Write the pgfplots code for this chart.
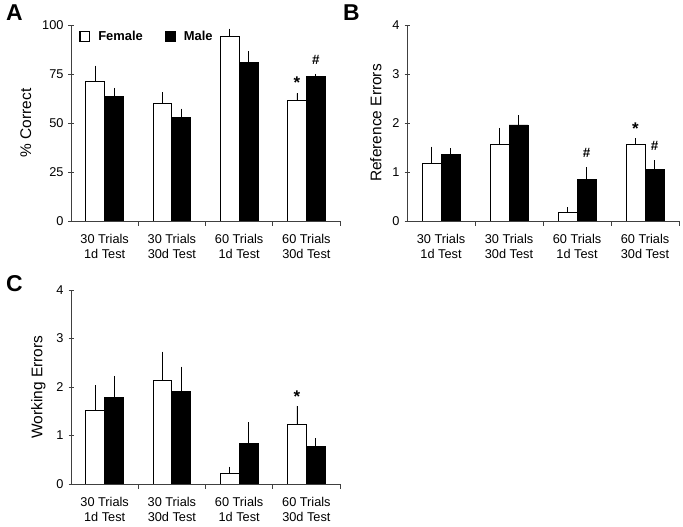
\documentclass[border=0pt]{standalone}
\usepackage{fontspec}
\setmainfont{Liberation Sans}
\usepackage{pgfplots}
\pgfplotsset{compat=1.18}
\definecolor{axgray}{gray}{0.25}
\begin{document}
\begin{tikzpicture}
\useasboundingbox (0bp,0bp) rectangle (683bp,527bp);
\pgfplotsset{
  panel/.style={
    scale only axis,
    anchor=south west,
    axis x line*=bottom, axis y line*=left,
    axis line style={line width=0.9bp, color=axgray, -},
    ybar=0pt, bar width=0.28,
    xmin=-0.5, xmax=3.5, ymin=0,
    xtick={0.5,1.5,2.5,3.5}, xticklabels={},
    x tick style={axgray, line width=0.9bp},
    y tick style={axgray, line width=0.9bp},
    xtick align=outside,
    ytick align=center,
    major tick length=5bp,
    extra x ticks={0,1,2,3},
    extra x tick labels={{30 Trials\\1d Test},{30 Trials\\30d Test},{60 Trials\\1d Test},{60 Trials\\30d Test}},
    extra x tick style={major tick length=0pt},
    xticklabel style={align=center, font=\fontsize{12.8}{15}\selectfont, inner sep=0pt, yshift=-13bp},
    yticklabel style={font=\fontsize{12.8}{15}\selectfont, xshift=-1.5bp},
    /pgf/number format/assume math mode=true,
    ylabel style={font=\fontsize{15.5}{18}\selectfont, at={(ticklabel cs:0.5)}, anchor=south, yshift=4bp},
    every axis plot/.append style={line width=0.9bp},
    error bars/y dir=plus,
    error bars/y explicit,
    error bars/error mark=none,
    error bars/error bar style={black, line width=0.9bp},
    legend image code/.code={\draw[#1, line width=1.4bp] (0.7bp,-4.8bp) rectangle (10.3bp,4.8bp);},
  },
  fem/.style={draw=black, fill=white},
  mal/.style={draw=black, fill=black},
}
% Panel A
\begin{axis}[panel, at={(71bp,306bp)}, width=269bp, height=196bp,
  ymax=100, ytick={0,25,50,75,100},
  ylabel={\% Correct},
  legend columns=2,
  legend style={draw=none, fill=none, at={(0.03,0.98)}, anchor=north west,
    font=\fontsize{13}{15}\selectfont\bfseries,
    /tikz/every odd column/.append style={column sep=6bp},
    /tikz/every even column/.append style={column sep=20bp},
    inner sep=0pt, cells={anchor=west}},
  ]
\addplot[fem] coordinates {(0,71.1) +- (0,8.2) (1,60.0) +- (0,5.6) (2,94.0) +- (0,4.1) (3,61.4) +- (0,3.7)};
\addlegendentry{Female}
\addplot[mal] coordinates {(0,63.4) +- (0,4.5) (1,52.9) +- (0,4.4) (2,81.0) +- (0,5.6) (3,73.5) +- (0,1.5)};
\addlegendentry{Male}
\node[font=\fontsize{17}{17}\selectfont\bfseries] at (axis cs:2.86,70.5) {*};
\node[font=\fontsize{13.5}{13.5}\selectfont\bfseries] at (axis cs:3.14,82) {\#};
\end{axis}
% Panel B
\begin{axis}[panel, at={(407bp,306bp)}, width=272bp, height=196bp,
  ymax=4, ytick={0,1,2,3,4},
  ylabel={Reference Errors},
  ]
\addplot[fem] coordinates {(0,1.18) +- (0,0.34) (1,1.56) +- (0,0.34) (2,0.18) +- (0,0.10) (3,1.56) +- (0,0.13)};
\addplot[mal] coordinates {(0,1.35) +- (0,0.13) (1,1.96) +- (0,0.20) (2,0.85) +- (0,0.25) (3,1.06) +- (0,0.18)};
\node[font=\fontsize{17}{17}\selectfont\bfseries] at (axis cs:2.86,1.88) {*};
\node[font=\fontsize{13.5}{13.5}\selectfont\bfseries] at (axis cs:3.14,1.53) {\#};
\node[font=\fontsize{13.5}{13.5}\selectfont\bfseries] at (axis cs:2.14,1.38) {\#};
\end{axis}
% Panel C
\begin{axis}[panel, at={(71bp,43bp)}, width=269bp, height=194bp,
  ymax=4, ytick={0,1,2,3,4},
  ylabel={Working Errors},
  ]
\addplot[fem] coordinates {(0,1.51) +- (0,0.53) (1,2.13) +- (0,0.60) (2,0.22) +- (0,0.14) (3,1.23) +- (0,0.38)};
\addplot[mal] coordinates {(0,1.79) +- (0,0.44) (1,1.90) +- (0,0.52) (2,0.84) +- (0,0.43) (3,0.78) +- (0,0.16)};
\node[font=\fontsize{17}{17}\selectfont\bfseries] at (axis cs:2.86,1.80) {*};
\end{axis}
% Panel letters
\node[anchor=north west, inner sep=0pt, font=\fontsize{23}{23}\selectfont\bfseries] at (6bp,522bp) {A};
\node[anchor=north west, inner sep=0pt, font=\fontsize{23}{23}\selectfont\bfseries] at (343bp,522bp) {B};
\node[anchor=north west, inner sep=0pt, font=\fontsize{23}{23}\selectfont\bfseries] at (6bp,252bp) {C};
\end{tikzpicture}
\end{document}
